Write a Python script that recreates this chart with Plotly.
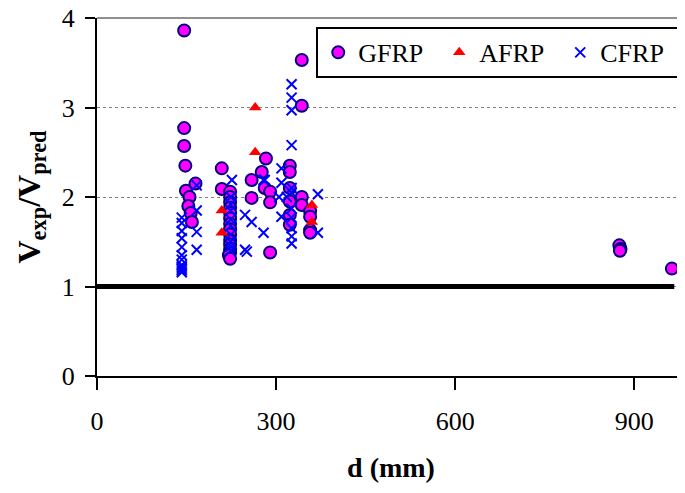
import plotly.graph_objects as go

# GFRP
gfrp_d = [146, 146, 146, 148, 149, 165, 155, 153, 157, 159,
          209, 209, 223, 223, 223, 223, 223, 223, 223, 223, 223, 223, 223, 223, 223, 221, 223,
          283, 276, 259, 281, 290, 290, 259, 290,
          323, 323, 323, 323, 323, 323,
          343, 343, 343, 343, 357, 357, 357, 357,
          875, 877, 876, 963]
gfrp_v = [3.86, 2.77, 2.57, 2.35, 2.07, 2.15, 2.00, 1.90, 1.82, 1.72,
          2.32, 2.09, 2.06, 2.00, 1.94, 1.88, 1.82, 1.76, 1.70, 1.64, 1.58, 1.52, 1.47, 1.42, 1.38, 1.35, 1.31,
          2.43, 2.28, 2.19, 2.10, 2.06, 1.94, 1.99, 1.38,
          2.35, 2.28, 2.10, 1.95, 1.80, 1.69,
          3.53, 3.02, 2.00, 1.91, 1.84, 1.78, 1.63, 1.60,
          1.46, 1.42, 1.40, 1.20]

# AFRP
afrp_d = [265, 265, 209, 209, 360, 360]
afrp_v = [3.00, 2.50, 1.85, 1.60, 1.91, 1.72]

# CFRP
cfrp_d = [142, 142, 142, 142, 142, 142, 142, 142, 142, 142, 142, 142,
          167, 167, 167, 167,
          226, 224, 224, 224, 224, 224, 224, 224, 224, 224,
          248, 248, 251, 259, 279, 279, 281,
          309, 309, 305, 309, 318,
          326, 326, 326, 326, 326, 326, 326, 326, 326, 326, 326,
          370, 370]
cfrp_v = [1.77, 1.71, 1.62, 1.54, 1.44, 1.35, 1.30, 1.24, 1.20, 1.16, 1.18, 1.22,
          2.13, 1.85, 1.61, 1.41,
          2.19, 2.00, 1.92, 1.85, 1.75, 1.68, 1.58, 1.50, 1.45, 1.40,
          1.80, 1.41, 1.39, 1.72, 1.60, 2.19, 2.19,
          2.32, 2.16, 2.00, 1.78, 2.00,
          3.26, 3.11, 2.97, 2.58, 2.10, 2.05, 1.87, 1.77, 1.65, 1.56, 1.48,
          2.03, 1.60]

# reference line Vexp/Vpred = 1
ref_d = [0, 967]
ref_v = [1, 1]

x_ticks = [0, 300, 600, 900]
y_ticks = [0, 1, 2, 3, 4]

FONT = "Liberation Serif, Times New Roman, serif"

fig = go.Figure()
fig.add_trace(go.Scatter(x=ref_d, y=ref_v, mode="lines", line=dict(color="black", width=5),
                         showlegend=False, hoverinfo="skip"))
fig.add_trace(go.Scatter(x=gfrp_d, y=gfrp_v, mode="markers", name="GFRP",
                         marker=dict(symbol="circle", size=12, color="#FF00FF",
                                     line=dict(color="#000080", width=2))))
fig.add_trace(go.Scatter(x=afrp_d, y=afrp_v, mode="markers", name="AFRP",
                         marker=dict(symbol="triangle-up", size=11, color="#FF0000",
                                     line=dict(width=0))))
fig.add_trace(go.Scatter(x=cfrp_d, y=cfrp_v, mode="markers", name="CFRP",
                         marker=dict(symbol="x-thin-open", size=10, color="#0000FF",
                                     line=dict(color="#0000FF", width=2))))

# top border of the plot area (y = 4)
fig.add_shape(type="line", xref="paper", yref="paper", x0=0, x1=1, y0=1, y1=1,
              line=dict(color="#909090", width=2), layer="below")

fig.update_layout(
    width=677, height=485,
    margin=dict(l=89, r=0, t=10, b=117),
    paper_bgcolor="white", plot_bgcolor="white",
    font=dict(family=FONT, size=26, color="black"),
    showlegend=True,
    legend=dict(orientation="h", x=0.997, xanchor="right", y=0.975, yanchor="top",
                bordercolor="black", borderwidth=2, bgcolor="white",
                font=dict(family=FONT, size=26), itemwidth=30, entrywidth=76,
                tracegroupgap=0),
    xaxis=dict(range=[0, 985], tickvals=x_ticks, ticks="outside", ticklen=12, tickwidth=2,
               tickcolor="black", showline=True, linecolor="black", linewidth=2,
               showgrid=False, zeroline=False, ticklabelstandoff=9, automargin=False,
               ticklabeloverflow="allow",
               tickfont=dict(family=FONT, size=26),
               title=dict(text="<b>d (mm)</b>", font=dict(family=FONT, size=28), standoff=22)),
    yaxis=dict(range=[0, 4], tickvals=y_ticks, ticks="outside", ticklen=10, tickwidth=2,
               tickcolor="black", showline=True, linecolor="black", linewidth=2,
               showgrid=True, gridcolor="#808080", griddash="dot", gridwidth=1,
               zeroline=False, ticklabelstandoff=5, automargin=False,
               ticklabeloverflow="allow",
               tickfont=dict(family=FONT, size=26),
               title=dict(text="<b>V<sub>exp</sub>/V<sub>pred</sub></b>",
                          font=dict(family=FONT, size=32), standoff=12)),
)

fig.write_html("out.html")
